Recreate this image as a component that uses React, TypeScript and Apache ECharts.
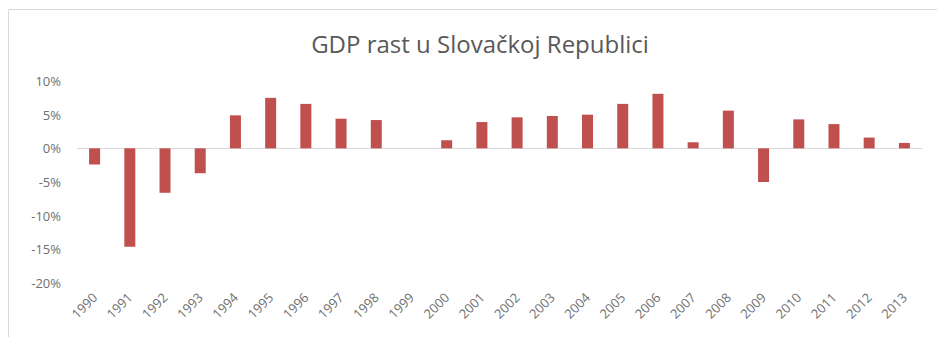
import React, { useEffect, useRef } from "react";
import * as echarts from "echarts";

const years = ["1990","1991","1992","1993","1994","1995","1996","1997","1998","1999","2000","2001","2002","2003","2004","2005","2006","2007","2008","2009","2010","2011","2012","2013"];
const growth = [-2.4,-14.6,-6.6,-3.7,4.9,7.5,6.6,4.4,4.2,0,1.2,3.9,4.6,4.8,5.0,6.6,8.1,0.9,5.6,-5.0,4.3,3.6,1.6,0.8];
const yMin = -20;
const yMax = 10;
const yStep = 5;

export default function App() {
  const ref = useRef<HTMLDivElement>(null);
  useEffect(() => {
    if (!ref.current) return;
    const chart = echarts.init(ref.current, undefined, { renderer: "svg" });
    chart.setOption({
      animation: false,
      backgroundColor: "#ffffff",
      title: {
        text: "GDP rast u Slovačkoj Republici",
        left: 475,
        textAlign: "center",
        top: 26,
        textStyle: { fontFamily: "Open Sans", fontSize: 24, fontWeight: "normal", color: "#595959" },
      },
      graphic: [
        {
          type: "rect",
          shape: { x: 8.5, y: 9.5, width: 940, height: 340 },
          style: { fill: "none", stroke: "#d9d9d9", lineWidth: 1 },
          silent: true,
        },
      ],
      grid: { left: 77, right: 15, top: 81, bottom: 54, containLabel: false },
      xAxis: {
        type: "category",
        data: years,
        axisLine: { show: false, onZero: false },
        axisTick: { show: false },
        axisLabel: {
          rotate: 45,
          margin: 12,
          fontFamily: "Open Sans",
          fontSize: 13,
          color: "#707070",
          interval: 0,
        },
      },
      yAxis: {
        type: "value",
        min: yMin,
        max: yMax,
        interval: yStep,
        axisLine: { show: false },
        axisTick: { show: false },
        splitLine: { show: false },
        axisLabel: {
          margin: 16,
          fontFamily: "Open Sans",
          fontSize: 13,
          color: "#707070",
          formatter: (v: number) => `${v}%`,
        },
      },
      series: [
        {
          type: "bar",
          data: growth,
          barWidth: 11,
          itemStyle: { color: "#C0504D" },
          z: 3,
          markLine: {
            silent: true,
            symbol: "none",
            label: { show: false },
            lineStyle: { color: "#d9d9d9", type: "solid", width: 1 },
            data: [{ yAxis: 0 }],
            z: 1,
          },
        },
      ],
    });
    return () => chart.dispose();
  }, []);
  return (
    <div
      ref={ref}
      style={{ position: "fixed", left: 0, top: 0, width: 937, height: 337 }}
    />
  );
}
